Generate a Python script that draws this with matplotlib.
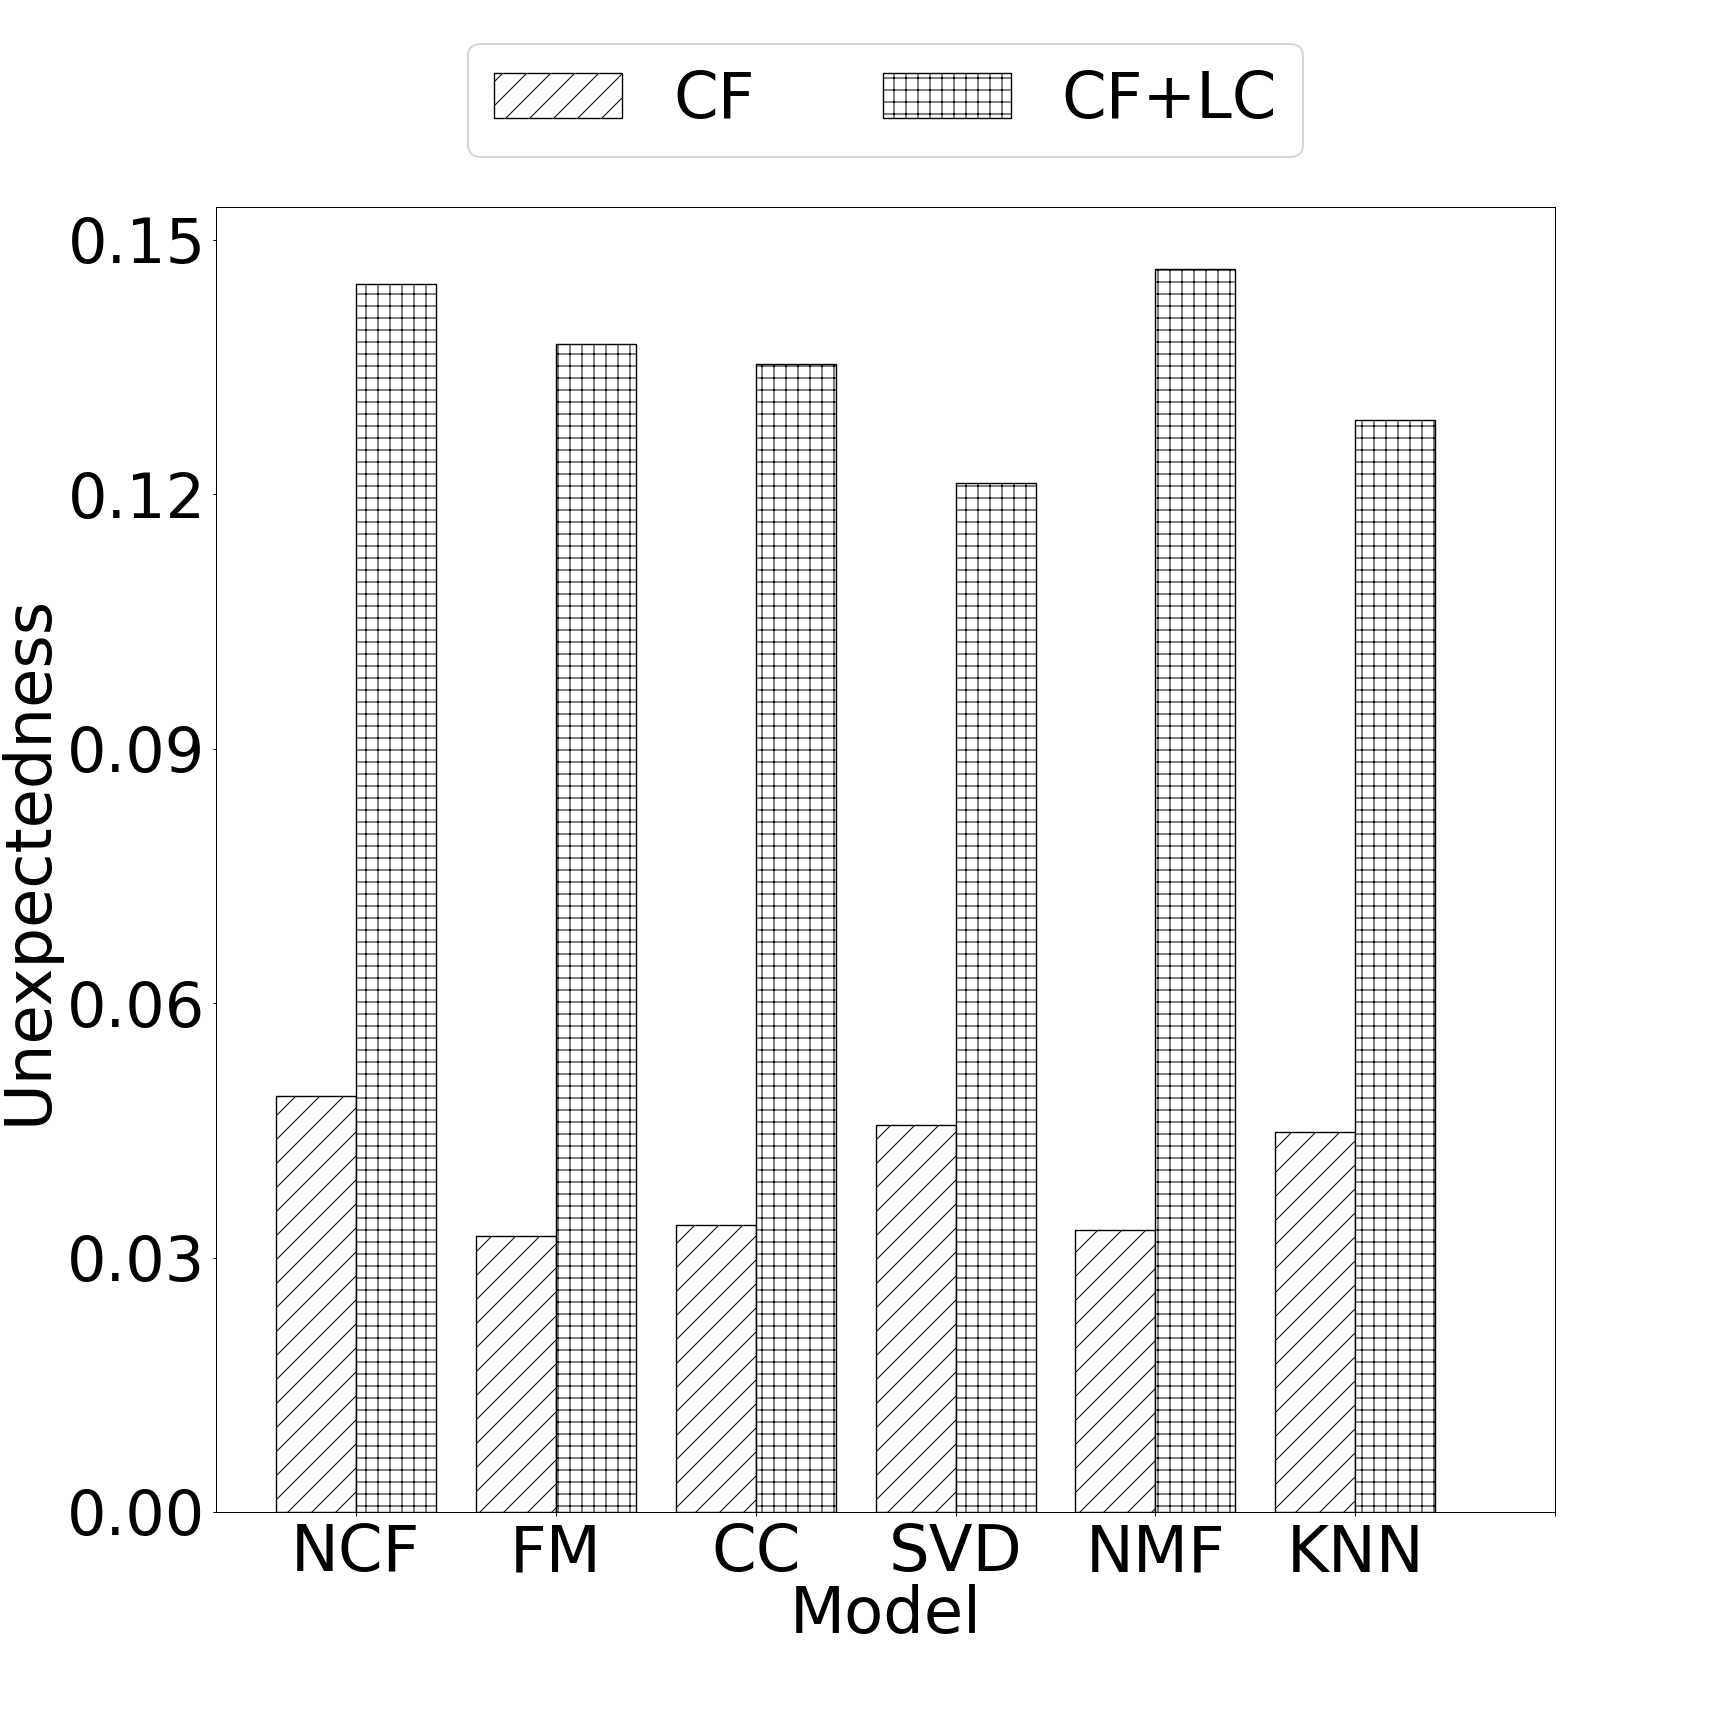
import matplotlib
matplotlib.use("Agg")
import matplotlib.pyplot as plt
import numpy as np

models = ["NCF", "FM", "CC", "SVD", "NMF", "KNN"]
cf = [0.0491, 0.0325, 0.0338, 0.0456, 0.0332, 0.0448]
cf_lc = [0.1448, 0.1377, 0.1353, 0.1213, 0.1465, 0.1287]
yticks = [0.00, 0.03, 0.06, 0.09, 0.12, 0.15]
ytick_labels = ["0.00", "0.03", "0.06", "0.09", "0.12", "0.15"]
xtick_labels = models + [""]

plt.rcParams['hatch.linewidth'] = 0.5
plt.rcParams['axes.linewidth'] = 0.5

fig = plt.figure(figsize=(12, 12), dpi=144)
ax = fig.add_axes([0.125, 0.125, 0.775, 0.755])

x = np.arange(len(models))
w = 0.4
ax.bar(x - w / 2, cf, w, color="white", edgecolor="black", hatch="//", linewidth=0.7, label="CF")
ax.bar(x + w / 2, cf_lc, w, color="white", edgecolor="black", hatch="++", linewidth=0.7, label="CF+LC")

ax.set_xlim(-0.7, 6.0)
ax.set_ylim(0, max(cf_lc) * 1.05)
ax.set_xticks(np.arange(len(xtick_labels)))
ax.set_xticklabels(xtick_labels, fontsize=32)
ax.set_yticks(yticks)
ax.set_yticklabels(ytick_labels, fontsize=31)
ax.tick_params(length=1.75, width=0.5)
ax.set_xlabel("Model", fontsize=32, labelpad=0)
ax.set_ylabel("Unexpectedness", fontsize=32)

ax.legend(loc="upper center", bbox_to_anchor=(0.5, 1.15), ncol=2, fontsize=32)

fig.savefig("out.png", dpi=144)
